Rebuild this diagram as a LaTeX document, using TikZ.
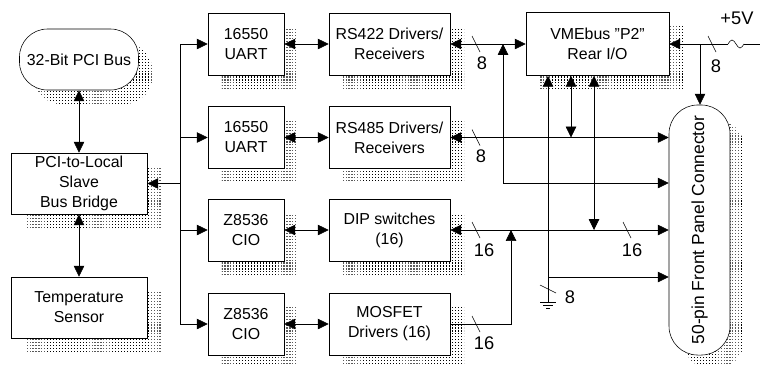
\documentclass[tikz,border=0pt]{standalone}
\usepackage{fontspec}
\setmainfont{Liberation Sans}
\usetikzlibrary{arrows.meta, patterns.meta, calc}
\tikzdeclarepattern{
  name=finedots,
  type=uncolored,
  bottom left={(0pt,0pt)},
  top right={(0.8pt,0.8pt)},
  tile size={(2.1pt,2.1pt)},
  code={\pgfpathrectangle{\pgfpointorigin}{\pgfpoint{0.8pt}{0.8pt}}\pgfusepath{fill}}
}

\begin{document}
\begin{tikzpicture}[
  x=0.025cm, y=-0.025cm,
  font=\fontsize{11.3}{14.2}\selectfont,
  shadowed/.style={preaction={draw=none, pattern=finedots, transform canvas={xshift=0.35cm, yshift=-0.35cm}}},
  box/.style={draw, fill=white, shadowed, align=center, inner sep=1pt},
  chipbox/.style={box, minimum width=1.9cm, minimum height=1.55cm},
  drvbox/.style={box, minimum width=3.025cm, minimum height=1.55cm},
  sidebox/.style={box, minimum width=3.4cm, minimum height=1.525cm},
  arr/.style={-{Triangle[length=0.27cm, width=0.26cm]}},
  darr/.style={{Triangle[length=0.27cm, width=0.26cm]}-{Triangle[length=0.27cm, width=0.26cm]}},
  num/.style={font=\fontsize{13}{15}\selectfont, inner sep=0pt}
]
\useasboundingbox (0,0) rectangle (760,364);

\node[box, rounded corners=0.7cm, minimum width=2.975cm, minimum height=1.525cm] (pci) at (79,59.5) {32-Bit PCI Bus};
\node[sidebox] (bridge) at (79,183.5) {PCI-to-Local\\Slave\\Bus Bridge};
\node[sidebox] (temp) at (79,307.5) {Temperature\\Sensor};
\node[chipbox] (uarta) at (246,44) {16550\\UART};
\node[chipbox] (uartb) at (246,137.5) {16550\\UART};
\node[chipbox] (cioa) at (246,230) {Z8536\\CIO};
\node[chipbox] (ciob) at (246,324) {Z8536\\CIO};
\node[drvbox] (rs422) at (389.5,44) {RS422 Drivers/\\Receivers};
\node[drvbox] (rs485) at (389.5,137.5) {RS485 Drivers/\\Receivers};
\node[drvbox] (dip) at (389.5,230) {DIP switches\\(16)};
\node[drvbox] (mosfet) at (389.5,324) {MOSFET\\Drivers (16)};
\node[box, minimum width=3.575cm, minimum height=1.575cm] (vme) at (597.5,44) {VMEbus "P2"\\Rear I/O};
\node[box, rounded corners=0.72cm, rotate=90, minimum width=6.25cm, minimum height=1.525cm,
      font=\fontsize{12.4}{14}\selectfont] (conn) at (699.5,230) {50-pin Front Panel Connector};

\coordinate (bustop) at (180,44);
\coordinate (busbot) at (180,324);
\coordinate (loop) at (503,183);
\coordinate (turn) at (511,324);
\coordinate (tee) at (548,277);
\coordinate (gnd) at (548,302);
\coordinate (tapb) at (571,137.5);
\coordinate (tapc) at (594,230);
\coordinate (pwrtap) at (700,44);
\coordinate (fusea) at (728,44);
\coordinate (fuseb) at (744,44);
\coordinate (pwr) at (760,44);

\draw[darr] (pci) -- (bridge);
\draw[darr] (bridge) -- (temp);
\draw (bustop) -- (busbot);
\draw[arr] (bridge.east -| bustop) -- (bridge.east);
\draw[arr] (bustop) -- (uarta.west);
\draw[arr] (uartb.west -| bustop) -- (uartb.west);
\draw[arr] (cioa.west -| bustop) -- (cioa.west);
\draw[arr] (busbot) -- (ciob.west);

\draw[darr] (uarta) -- (rs422);
\draw[darr] (uartb) -- (rs485);
\draw[darr] (cioa) -- (dip);
\draw[darr] (ciob) -- (mosfet);

\draw[darr] (rs422) -- (vme);
\draw[darr] (rs485.east) -- (rs485.east -| conn.north);
\draw[darr] (dip.east) -- (dip.east -| conn.north);
\draw[darr] (loop |- rs422.east) -- (loop) -- (loop -| conn.north);
\draw[arr] (mosfet.east) -- (turn) -- (turn |- dip.east);
\draw[darr] (tee |- vme.south) -- (tee) -- (tee -| conn.north);
\draw (tee) -- (gnd);
\draw (gnd) ++(-8,0) -- ++(16,0) (gnd) ++(-5,3) -- ++(10,0) (gnd) ++(-2,6) -- ++(4,0);
\draw[darr] (tapb |- vme.south) -- (tapb);
\draw[darr] (tapc |- vme.south) -- (tapc);

\draw (pwr) -- (fuseb);
\draw (fusea) sin ++(4,-4) cos ++(4,4) sin ++(4,4) cos ++(4,-4);
\draw[arr] (fusea) -- (vme.east);
\draw[arr] (pwrtap) -- (pwrtap |- conn.east);
\node[num] (vplus) at (737,18) {+5V};

\draw (476,44) ++(-4,-8) -- ++(8,16);
\draw (476,137.5) ++(-4,-8) -- ++(8,16);
\draw (476,230) ++(-4,-8) -- ++(8,16);
\draw (627,230) ++(-4,-8) -- ++(8,16);
\draw (476,324) ++(-4,-8) -- ++(8,16);
\draw (712,44) ++(-4,-8) -- ++(8,16);
\draw (548,289) ++(-8,-4) -- ++(16,8);
\node[num] (wa) at (482,63) {8};
\node[num] (wb) at (481,156) {8};
\node[num] (wc) at (484,250) {16};
\node[num] (wd) at (632,250) {16};
\node[num] (we) at (484,343) {16};
\node[num] (wf) at (716,66) {8};
\node[num] (wg) at (570,297) {8};
\end{tikzpicture}
\end{document}
